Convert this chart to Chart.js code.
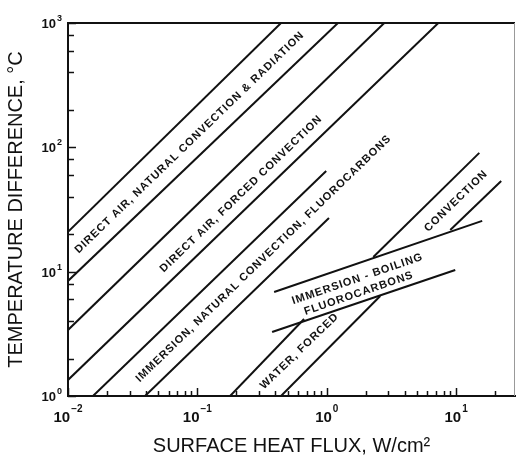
<!DOCTYPE html>
<html>
<head>
<meta charset="utf-8">
<script src="https://cdn.jsdelivr.net/npm/chart.js@4.4.0/dist/chart.umd.min.js"></script>
<style>
  html, body { margin: 0; padding: 0; background: #fff; }
  #wrap { position: relative; width: 516px; height: 461px; }
</style>
</head>
<body>
<div id="wrap"><canvas id="heatChart"></canvas></div>
<script>
// Plages des axes (échelles log)
const xRange = [0.01, 28.5];
const yRange = [1, 1000];

// Décades étiquetées et graduations mineures
const xDecades = [0.01, 0.1, 1, 10];
const xDecadeExp = ['\u22122', '\u22121', '0', '1'];
const yDecades = [1, 10, 100, 1000];
const yDecadeExp = ['0', '1', '2', '3'];
const xMinorMult = [2, 3, 4, 5, 6, 7, 8, 9];
const yMinorMult = [2, 4, 6, 8];

// Droites : [début, fin] en flux et en température
const lineFlux = [
    [0.01, 0.443],   // air direct, naturel, haut
    [0.01, 1.22],    // air direct, naturel, bas
    [0.01, 2.78],    // air direct, forcé, haut
    [0.01, 7.28],    // air direct, forcé, bas
    [0.0156, 0.99],  // immersion naturelle, haut
    [0.0394, 1.04],  // immersion naturelle, bas
    [0.179, 0.668],  // eau forcée, haut (sous la bande d'ébullition)
    [2.29, 15.1],    // eau forcée, haut (au-dessus)
    [0.443, 2.59],   // eau forcée, bas
    [9.0, 22.3],     // convection, bas
    [0.392, 15.9],   // ébullition, haut
    [0.378, 9.84]    // ébullition, bas
];
const lineTemp = [
    [20.9, 1000],
    [8.42, 1000],
    [3.40, 1000],
    [1.345, 1000],
    [1, 64.6],
    [1, 27.0],
    [1, 4.16],
    [13.1, 90.2],
    [1, 6.38],
    [21.6, 53.7],
    [6.87, 25.6],
    [3.27, 10.3]
];

// Textes des bandes : position (flux, température) et angle en degrés
const labelText = [
    'DIRECT AIR, NATURAL CONVECTION & RADIATION',
    'DIRECT AIR, FORCED CONVECTION',
    'IMMERSION, NATURAL CONVECTION, FLUOROCARBONS',
    'WATER, FORCED',
    'CONVECTION',
    'IMMERSION - BOILING',
    'FLUOROCARBONS'
];
const labelFlux = [0.0871, 0.218, 0.325, 0.616, 10.0, 1.73, 1.77];
const labelTemp = [109.5, 42.2, 12.77, 2.30, 37, 8.73, 6.68];
const labelAngle = [-44, -44, -44, -44, -44, -19, -19];

const FONT = '"Liberation Sans", Arial, Helvetica, sans-serif';
const INK = '#111';

// Cadre, graduations internes, textes et étiquettes 10^n
const decorPlugin = {
    id: 'decor',
    afterDatasetsDraw(chart) {
        const ctx = chart.ctx;
        const a = chart.chartArea;
        const x = chart.scales.x;
        const y = chart.scales.y;
        ctx.save();

        // bord haut et bord droit
        ctx.strokeStyle = INK;
        ctx.lineWidth = 2;
        ctx.beginPath();
        ctx.moveTo(a.left, a.top);
        ctx.lineTo(a.right, a.top);
        ctx.stroke();
        ctx.strokeStyle = '#999';
        ctx.lineWidth = 1;
        ctx.beginPath();
        ctx.moveTo(a.right - 0.5, a.top);
        ctx.lineTo(a.right - 0.5, a.bottom);
        ctx.stroke();

        // graduations tournées vers l'intérieur
        ctx.strokeStyle = INK;
        ctx.lineWidth = 1.5;
        xDecades.forEach(d => {
            const marks = [[d, 8]].concat(xMinorMult.map(m => [d * m, 5]));
            marks.forEach(([v, len]) => {
                if (v < xRange[0] || v > xRange[1]) return;
                const px = Math.round(x.getPixelForValue(v)) + 0.5;
                ctx.beginPath();
                ctx.moveTo(px, a.bottom);
                ctx.lineTo(px, a.bottom - len);
                ctx.stroke();
            });
        });
        yDecades.forEach(d => {
            const marks = [[d, 8]].concat(yMinorMult.map(m => [d * m, 6]));
            marks.forEach(([v, len]) => {
                if (v < yRange[0] || v > yRange[1]) return;
                const py = Math.round(y.getPixelForValue(v)) + 0.5;
                ctx.beginPath();
                ctx.moveTo(a.left, py);
                ctx.lineTo(a.left + len, py);
                ctx.stroke();
            });
        });

        // textes le long des bandes
        ctx.fillStyle = INK;
        ctx.font = 'bold 11px ' + FONT;
        ctx.letterSpacing = '1px';
        ctx.textAlign = 'center';
        ctx.textBaseline = 'middle';
        labelText.forEach((t, i) => {
            ctx.save();
            ctx.translate(x.getPixelForValue(labelFlux[i]), y.getPixelForValue(labelTemp[i]));
            ctx.rotate(labelAngle[i] * Math.PI / 180);
            ctx.fillText(t, 0, 0);
            ctx.restore();
        });
        ctx.letterSpacing = '0px';

        // étiquettes 10^n
        ctx.textAlign = 'left';
        ctx.textBaseline = 'alphabetic';
        xDecades.forEach((d, i) => {
            const px = x.getPixelForValue(d);
            ctx.font = 'bold 15px ' + FONT;
            const wb = ctx.measureText('10').width;
            ctx.font = 'bold 10px ' + FONT;
            const we = ctx.measureText(xDecadeExp[i]).width;
            const start = px - (wb + we + 1) / 2;
            ctx.font = 'bold 15px ' + FONT;
            ctx.fillText('10', start, a.bottom + 26);
            ctx.font = 'bold 10px ' + FONT;
            ctx.fillText(xDecadeExp[i], start + wb + 1, a.bottom + 16);
        });
        yDecades.forEach((d, i) => {
            const py = y.getPixelForValue(d);
            ctx.font = 'bold 13px ' + FONT;
            const wb = ctx.measureText('10').width;
            ctx.font = 'bold 9px ' + FONT;
            const we = ctx.measureText(yDecadeExp[i]).width;
            const start = a.left - 6 - (wb + we + 1);
            ctx.font = 'bold 13px ' + FONT;
            ctx.fillText('10', start, py + 5);
            ctx.font = 'bold 9px ' + FONT;
            ctx.fillText(yDecadeExp[i], start + wb + 1, py - 2);
        });
        ctx.restore();
    }
};

const datasets = lineFlux.map((fx, i) => ({
    data: fx.map((f, j) => ({ x: f, y: lineTemp[i][j] })),
    borderColor: INK,
    borderWidth: 2,
    pointRadius: 0,
    fill: false,
    tension: 0
}));

const ctx = document.getElementById('heatChart').getContext('2d');
new Chart(ctx, {
    type: 'line',
    data: { datasets: datasets },
    options: {
        responsive: true,
        maintainAspectRatio: false,
        animation: false,
        devicePixelRatio: 1,
        layout: { padding: { top: 23, right: 1, left: 0, bottom: 0 } },
        plugins: {
            legend: { display: false },
            tooltip: { enabled: false }
        },
        scales: {
            x: {
                type: 'logarithmic',
                min: xRange[0],
                max: xRange[1],
                grid: { display: false },
                border: { display: true, color: INK, width: 2 },
                ticks: { display: false },
                title: {
                    display: true,
                    text: 'SURFACE HEAT FLUX, W/cm\u00b2',
                    color: INK,
                    font: { family: FONT, size: 20 },
                    padding: { top: 0, bottom: 3 }
                },
                afterFit: s => { s.height = 65; }
            },
            y: {
                type: 'logarithmic',
                min: yRange[0],
                max: yRange[1],
                grid: { display: false },
                border: { display: true, color: INK, width: 2 },
                ticks: { display: false },
                title: {
                    display: true,
                    text: 'TEMPERATURE DIFFERENCE, \u00b0C',
                    color: INK,
                    font: { family: FONT, size: 20 },
                    padding: { top: 4, bottom: 0 }
                },
                afterFit: s => { s.width = 68; }
            }
        }
    },
    plugins: [decorPlugin]
});
</script>
</body>
</html>
